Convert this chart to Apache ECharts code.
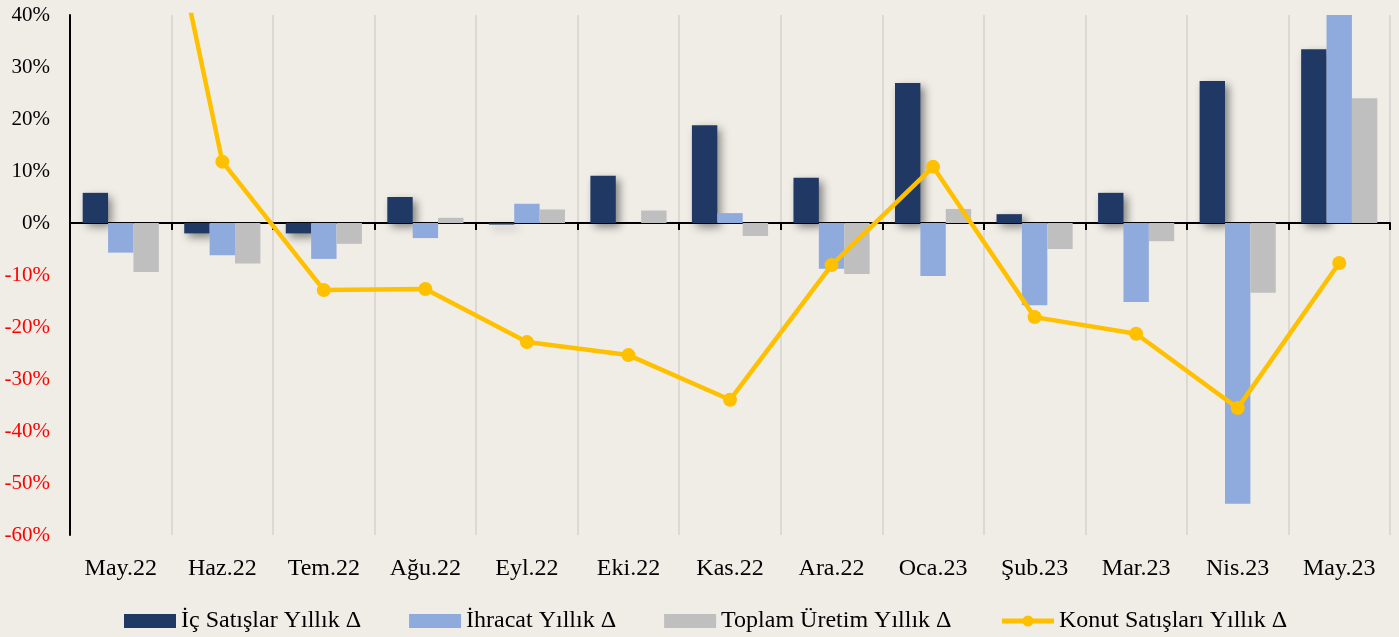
<!DOCTYPE html>
<html>
<head>
<meta charset="utf-8">
<script src="https://cdn.jsdelivr.net/npm/echarts@6/dist/echarts.min.js"></script>
<style>
  html, body { margin: 0; padding: 0; background: #f0ede7; }
  #chart { width: 1399px; height: 637px; }
</style>
</head>
<body>
<div id="chart"></div>
<script>
// aylar
const categories = ['May.22', 'Haz.22', 'Tem.22', 'Ağu.22', 'Eyl.22', 'Eki.22', 'Kas.22',
  'Ara.22', 'Oca.23', 'Şub.23', 'Mar.23', 'Nis.23', 'May.23'];
// seriler (yüzde)
const icSatislar = [5.8, -2.0, -2.0, 5.0, -0.3, 9.1, 18.8, 8.7, 26.9, 1.7, 5.8, 27.3, 33.4];
const ihracat = [-5.7, -6.2, -6.9, -2.9, 3.7, 0, 1.9, -8.8, -10.2, -15.8, -15.2, -54.0, 45];
const toplamUretim = [-9.4, -7.8, -4.0, 1.0, 2.6, 2.4, -2.5, -9.8, 2.7, -5.0, -3.5, -13.4, 24.0];
const konutSatislari = [104.5, 11.8, -12.9, -12.7, -22.9, -25.4, -34.0, -8.1, 10.8, -18.1, -21.3, -35.6, -7.7];

const names = ['İç Satışlar Yıllık Δ', 'İhracat Yıllık Δ', 'Toplam Üretim Yıllık Δ', 'Konut Satışları Yıllık Δ'];
const serif = 'Liberation Serif';

const chart = echarts.init(document.getElementById('chart'));
const option = {
  backgroundColor: '#f0ede7',
  animation: false,
  grid: { left: 70, right: 9, top: 15, bottom: 102, containLabel: false, outerBoundsMode: 'none' },
  legend: {
    left: 124,
    top: 609,
    padding: 0,
    itemWidth: 52,
    itemHeight: 14,
    itemGap: 48,
    textStyle: { fontFamily: serif, fontSize: 24, color: '#000' },
    data: [
      { name: names[0], icon: 'rect' },
      { name: names[1], icon: 'rect' },
      { name: names[2], icon: 'rect' },
      { name: names[3], lineStyle: { width: 5 } }
    ]
  },
  xAxis: [
    {
      // etiketler + dikey çizgiler (alt kenarda)
      type: 'category',
      data: categories,
      position: 'bottom',
      axisLine: { show: false, onZero: false },
      axisTick: { show: false },
      axisLabel: { margin: 22, fontFamily: serif, fontSize: 24, color: '#000' },
      splitLine: { show: true, lineStyle: { color: '#dcd9d4', width: 2 } }
    },
    {
      // sıfır çizgisi
      type: 'category',
      data: categories,
      position: 'top',
      axisLine: { show: true, onZero: true, lineStyle: { color: '#000', width: 2 } },
      axisTick: { show: true, inside: true, length: 7, lineStyle: { color: '#000', width: 2 } },
      axisLabel: { show: false },
      splitLine: { show: false }
    }
  ],
  yAxis: {
    type: 'value',
    min: -60,
    max: 40,
    interval: 10,
    axisLine: { show: true, lineStyle: { color: '#000', width: 2 } },
    axisTick: { show: false },
    splitLine: { show: false },
    axisLabel: {
      margin: 20,
      fontFamily: serif,
      fontSize: 21,
      formatter: v => v + '%',
      color: v => (Number(v) < 0 ? '#ff0000' : '#000')
    }
  },
  series: [
    {
      name: names[0],
      type: 'bar',
      data: icSatislar,
      barGap: '0%',
      barCategoryGap: '25%',
      itemStyle: {
        color: '#203864',
        shadowColor: 'rgba(0,0,0,0.45)',
        shadowBlur: 9,
        shadowOffsetX: 4,
        shadowOffsetY: 4
      }
    },
    {
      name: names[1],
      type: 'bar',
      data: ihracat,
      barGap: '0%',
      barCategoryGap: '25%',
      itemStyle: { color: '#8faadc' }
    },
    {
      name: names[2],
      type: 'bar',
      data: toplamUretim,
      barGap: '0%',
      barCategoryGap: '25%',
      itemStyle: { color: '#bfbfbf' }
    },
    {
      name: names[3],
      type: 'line',
      data: konutSatislari,
      symbol: 'circle',
      symbolSize: 14,
      clip: true,
      z: 5,
      lineStyle: { color: '#ffc000', width: 4.5 },
      itemStyle: { color: '#ffc000' }
    }
  ]
};
chart.setOption(option);
</script>
</body>
</html>
